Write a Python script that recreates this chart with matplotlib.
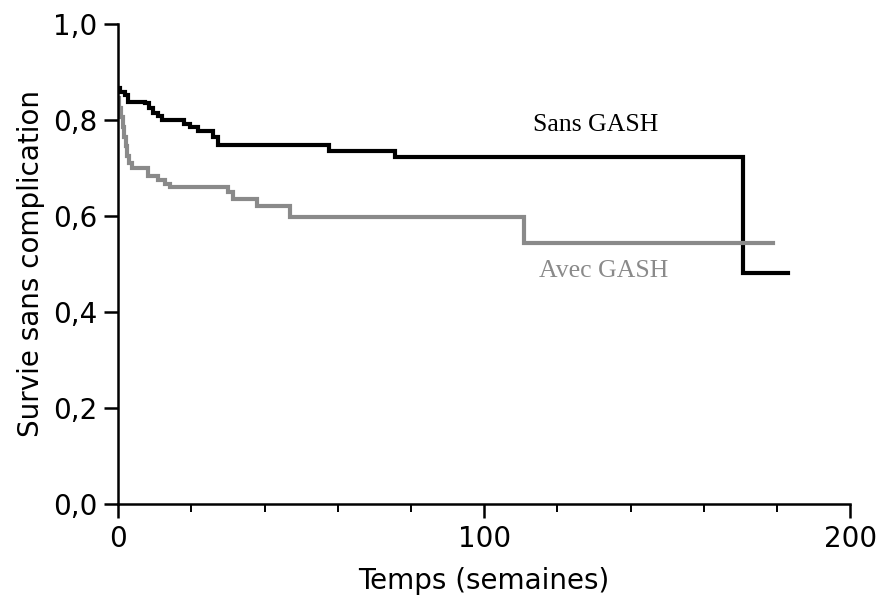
import matplotlib.pyplot as plt
from matplotlib.ticker import MultipleLocator, FuncFormatter

# Sans GASH (black)
t_sans = [0, 0.5, 1.9, 2.8, 7.4, 8.5, 9.6, 10.8, 11.9, 16.5, 17.9, 19.7, 21.9, 26, 27.4, 57.7, 75.7, 170.6, 183]
s_sans = [0.866, 0.857, 0.852, 0.836, 0.834, 0.825, 0.815, 0.808, 0.800, 0.800, 0.791, 0.784, 0.777, 0.765, 0.747,
          0.735, 0.723, 0.482, 0.482]

# Avec GASH (grey)
t_avec = [0, 0.3, 0.8, 1.2, 1.6, 2.0, 2.4, 3.0, 3.7, 8.2, 11.0, 12.8, 14.2, 30.1, 31.5, 37.9, 47.0, 110.8, 179]
s_avec = [0.845, 0.825, 0.805, 0.785, 0.765, 0.745, 0.725, 0.71, 0.700, 0.683, 0.675, 0.666, 0.661, 0.649, 0.635,
          0.621, 0.598, 0.544, 0.544]

fig = plt.figure(figsize=(8.82, 6.08), dpi=100)
ax = fig.add_axes([0.134, 0.171, 0.830, 0.790])

ax.step(t_sans, s_sans, where='post', color='black', lw=3, solid_joinstyle='miter')
ax.step(t_avec, s_avec, where='post', color='#8a8a8a', lw=3, solid_joinstyle='miter')

ax.text(130.5, 0.789, "Sans GASH", family='Liberation Serif', fontsize=18.5, color='black', ha='center', va='center')
ax.text(132.5, 0.486, "Avec GASH", family='Liberation Serif', fontsize=18.5, color='#8a8a8a', ha='center', va='center')

ax.set_xlim(0, 200)
ax.set_ylim(0, 1.0)
ax.spines['top'].set_visible(False)
ax.spines['right'].set_visible(False)
ax.spines['left'].set_linewidth(1.8)
ax.spines['bottom'].set_linewidth(1.8)

ax.xaxis.set_major_locator(MultipleLocator(100))
ax.xaxis.set_minor_locator(MultipleLocator(20))
ax.yaxis.set_major_locator(MultipleLocator(0.2))
ax.yaxis.set_major_formatter(FuncFormatter(lambda v, p: f"{v:.1f}".replace('.', ',')))
ax.tick_params(axis='both', which='major', direction='out', length=10, width=1.8, labelsize=20, pad=5)
ax.tick_params(axis='x', which='minor', direction='out', length=6, width=1.4)

ax.set_xlabel("Temps (semaines)", fontsize=20, labelpad=10)
ax.set_ylabel("Survie sans complication", fontsize=20, labelpad=6)

fig.savefig("out.png", dpi=100)
